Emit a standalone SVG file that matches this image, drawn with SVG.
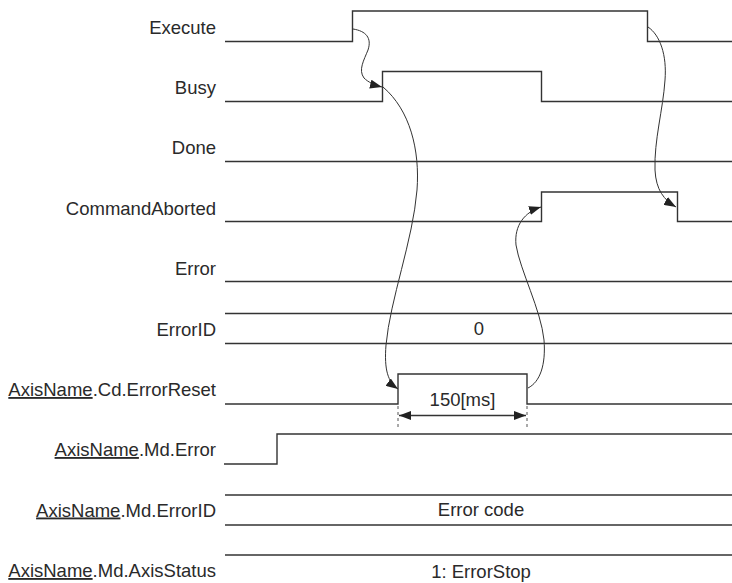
<svg xmlns="http://www.w3.org/2000/svg" width="732" height="583" viewBox="0 0 732 583">
<style>
.sig{fill:none;stroke:#333;stroke-width:1.4}
.lbl{font-family:"Liberation Sans",Arial,sans-serif;font-size:18.5px;fill:#2a2a2a;text-anchor:end}
.val{font-family:"Liberation Sans",Arial,sans-serif;font-size:18.5px;fill:#2a2a2a;text-anchor:middle}
.u{text-decoration:underline}
.cv{fill:none;stroke:#333;stroke-width:1}
.dim{fill:none;stroke:#333;stroke-width:1.4}
.tick{fill:none;stroke:#555;stroke-width:1;stroke-dasharray:3,3}
</style>
<defs>
<marker id="ah" viewBox="0 0 12 9" refX="12" refY="4.5" markerWidth="12" markerHeight="9" markerUnits="userSpaceOnUse" orient="auto">
<path d="M0,0 L12,4.5 L0,9 z" fill="#222"/>
</marker>
<marker id="ahs" viewBox="0 0 12 9" refX="12" refY="4.5" markerWidth="12" markerHeight="9" markerUnits="userSpaceOnUse" orient="auto-start-reverse">
<path d="M0,0 L12,4.5 L0,9 z" fill="#222"/>
</marker>
</defs>
<g id="execute">
<text class="lbl" x="216" y="33.5">Execute</text>
<polyline class="sig" points="225,41.5 352.5,41.5 352.5,11 647.5,11 647.5,41.5 732,41.5"/>
</g>
<g id="busy">
<text class="lbl" x="216" y="94">Busy</text>
<polyline class="sig" points="225,101.5 382.5,101.5 382.5,71.5 541.5,71.5 541.5,101.5 732,101.5"/>
</g>
<g id="done">
<text class="lbl" x="216" y="153.5">Done</text>
<line class="sig" x1="225" y1="161.5" x2="732" y2="161.5"/>
</g>
<g id="commandaborted">
<text class="lbl" x="216" y="215">CommandAborted</text>
<polyline class="sig" points="225,221.5 541.5,221.5 541.5,192 677.5,192 677.5,221.5 732,221.5"/>
</g>
<g id="error">
<text class="lbl" x="216" y="275">Error</text>
<line class="sig" x1="225" y1="281.5" x2="732" y2="281.5"/>
</g>
<g id="errorid">
<text class="lbl" x="216" y="335.5">ErrorID</text>
<line class="sig" x1="225" y1="313.5" x2="732" y2="313.5"/>
<line class="sig" x1="225" y1="343.5" x2="732" y2="343.5"/>
<text class="val" x="479" y="335">0</text>
</g>
<g id="errorreset">
<text class="lbl" x="216" y="396"><tspan class="u">AxisName</tspan>.Cd.ErrorReset</text>
<polyline class="sig" points="225,404 398,404 398,374 527,374 527,404 732,404"/>
</g>
<g id="mderror">
<text class="lbl" x="216" y="456"><tspan class="u">AxisName</tspan>.Md.Error</text>
<polyline class="sig" points="224,464 277,464 277,434 732,434"/>
</g>
<g id="mderrorid">
<text class="lbl" x="216" y="516.5"><tspan class="u">AxisName</tspan>.Md.ErrorID</text>
<line class="sig" x1="225" y1="495" x2="732" y2="495"/>
<line class="sig" x1="225" y1="525" x2="732" y2="525"/>
<text class="val" x="481" y="516">Error code</text>
</g>
<g id="axisstatus">
<text class="lbl" x="216" y="577"><tspan class="u">AxisName</tspan>.Md.AxisStatus</text>
<line class="sig" x1="225" y1="555" x2="732" y2="555"/>
<text class="val" x="481" y="578">1: ErrorStop</text>
</g>
<g id="dimension">
<line class="tick" x1="398" y1="406" x2="398" y2="428"/>
<line class="tick" x1="527" y1="406" x2="527" y2="428"/>
<line class="dim" x1="399" y1="415.5" x2="526" y2="415.5" marker-start="url(#ahs)" marker-end="url(#ah)"/>
<text class="val" x="462.5" y="406">150[ms]</text>
</g>
<g id="connectors">
<path class="cv" d="M353,29 C366,31 372,38 368,50 C364,60 358,70 364,78 C368,82 374,85 382,87" marker-end="url(#ah)"/>
<path class="cv" d="M383,87 C410,110 420,150 417,190 C413,240 390,300 386,345 C384,370 388,382 398,389" marker-end="url(#ah)"/>
<path class="cv" d="M528,388 C540,382 546,365 544,340 C541,310 520,270 516,245 C514,225 525,212 541,207" marker-end="url(#ah)"/>
<path class="cv" d="M648,27 C660,35 667,55 665,80 C663,110 654,140 655,170 C656,190 664,200 676,207" marker-end="url(#ah)"/>
</g>
</svg>
